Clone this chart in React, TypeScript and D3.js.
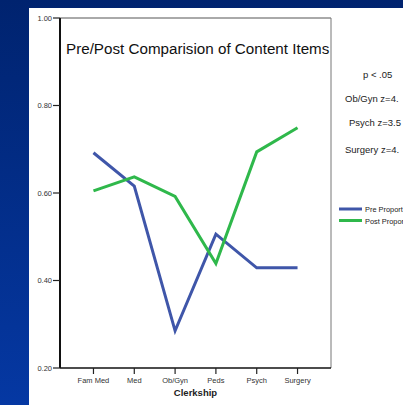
import * as React from 'react'
import * as d3 from 'd3'

const categories = ['Fam Med', 'Med', 'Ob/Gyn', 'Peds', 'Psych', 'Surgery']
const preValues = [0.692, 0.616, 0.285, 0.506, 0.429, 0.429]
const postValues = [0.605, 0.637, 0.592, 0.439, 0.694, 0.749]
const yTicks = [0.2, 0.4, 0.6, 0.8, 1.0]
const notes = ['p < .05', 'Ob/Gyn z=4.', 'Psych z=3.5', 'Surgery z=4.']
const legendLabels = ['Pre Proport', 'Post Propor']

const W = 403
const H = 405
const font = 'Liberation Sans, Arial, sans-serif'
const preColor = '#3f56a9'
const postColor = '#2fb84b'

export default function App() {
    const left = 60, right = 331, top = 18, bottom = 368
    const x = d3.scalePoint<string>().domain(categories).range([left, right]).padding(0.82)
    const y = d3.scaleLinear().domain([0.2, 1.0]).range([bottom, top])
    const line = d3.line<number>()
        .x((_, i) => x(categories[i]) as number)
        .y(d => y(d))

    React.useEffect(() => {
        document.body.style.margin = '0'
    }, [])

    // note positions (start x, baseline y)
    const notePos = [[363, 78], [345, 102], [349, 126], [345, 153]]

    return <svg width={W} height={H} style={{display: 'block'}}>
        <defs>
            <linearGradient id='bg' x1='0' y1='0' x2='0' y2='1'>
                <stop offset='0' stopColor='#00236f' />
                <stop offset='1' stopColor='#0538a3' />
            </linearGradient>
        </defs>
        <rect width={W} height={H} fill='url(#bg)' />
        <rect x={29} y={8} width={W - 29} height={H - 8} fill='#fff' />

        {/* plot frame */}
        <line x1={left} x2={right} y1={top} y2={top} stroke='#555' strokeWidth={1} />
        <line x1={right} x2={right} y1={top} y2={bottom} stroke='#777' strokeWidth={1} />
        <line x1={left} x2={right} y1={bottom} y2={bottom} stroke='#111' strokeWidth={1.5} />
        <line x1={left} x2={left} y1={top} y2={bottom} stroke='#111' strokeWidth={2} />

        {/* y axis */}
        <g fontFamily={font} fontSize={7.5} fill='#333'>
            {yTicks.map(t => <g key={t}>
                <line x1={left - 7} x2={left} y1={y(t)} y2={y(t)} stroke='#222' strokeWidth={1.2} />
                <text x={left - 8} y={y(t) + 2.6} textAnchor='end'>{t.toFixed(2)}</text>
            </g>)}
        </g>

        {/* x axis */}
        <g fontFamily={font} fontSize={7.5} fill='#333'>
            {categories.map(c => <g key={c}>
                <line x1={x(c)} x2={x(c)} y1={bottom} y2={bottom + 6} stroke='#222' strokeWidth={1.2} />
                <text x={x(c)} y={bottom + 15} textAnchor='middle'>{c}</text>
            </g>)}
            <text x={(left + right) / 2} y={bottom + 28} textAnchor='middle' fontWeight='bold' fontSize={9.5} fill='#222'>Clerkship</text>
        </g>

        <text x={66} y={54} fontFamily={font} fontSize={15.2} fill='#111'>Pre/Post Comparision of Content Items</text>

        <path d={line(preValues) ?? ''} fill='none' stroke={preColor} strokeWidth={3} />
        <path d={line(postValues) ?? ''} fill='none' stroke={postColor} strokeWidth={3} />

        {/* notes */}
        <g fontFamily={font} fontSize={9.5} fill='#222'>
            {notes.map((n, i) => <text key={n} x={notePos[i][0]} y={notePos[i][1]}>{n}</text>)}
        </g>

        {/* legend */}
        <g fontFamily={font} fontSize={7.4} fill='#222'>
            {legendLabels.map((l, i) => <g key={l}>
                <line x1={339} x2={362} y1={209 + i * 11.5} y2={209 + i * 11.5} stroke={i === 0 ? preColor : postColor} strokeWidth={3} />
                <text x={365} y={212 + i * 11.5}>{l}</text>
            </g>)}
        </g>
    </svg>
}
